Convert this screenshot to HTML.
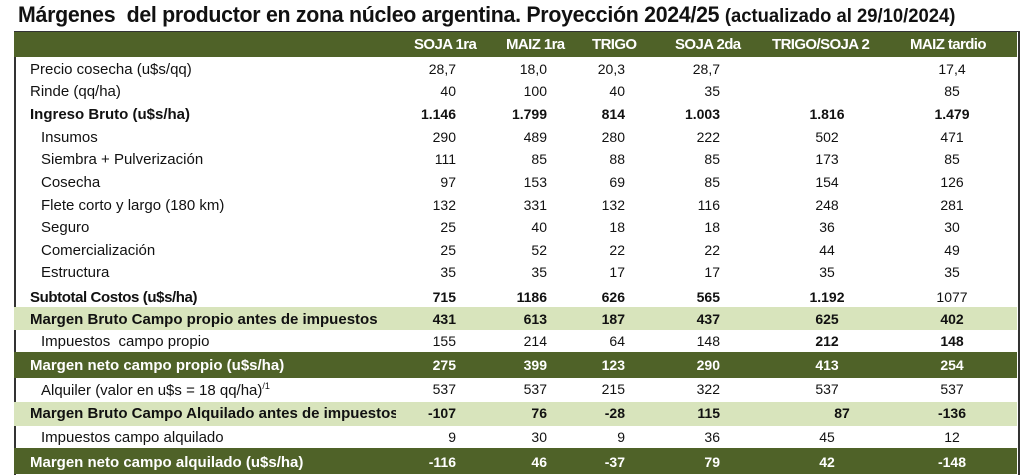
<!DOCTYPE html>
<html><head><meta charset="utf-8"><style>
body{margin:0;width:1024px;height:474px;background:#fff;overflow:hidden;position:relative;font-family:"Liberation Sans",sans-serif;color:#111}
.t{position:absolute;white-space:nowrap}
.bg{position:absolute;left:14px;width:1003px}
.r{position:absolute;left:0;width:1024px;font-size:14px}
.r span{position:absolute;white-space:nowrap;line-height:1}
.r span.l,.r span.s{font-size:15px;top:0}
.b span{font-weight:bold}
.w span{color:#fff;font-weight:bold}
.l{left:30px}.s{left:41px}
.c1{right:568px}.c2{right:477px}.c3{right:399px}.c4{right:304px}
.c5{left:777px;width:100px;text-align:center}.c6{left:902px;width:100px;text-align:center}
.h span{color:#fff;font-weight:bold;font-size:15px;letter-spacing:-0.6px}
</style></head><body>
<div class="t" style="left:18px;top:2px;font-size:22px;font-weight:bold;transform:scaleX(0.97);transform-origin:left top;letter-spacing:-0.3px">Márgenes&nbsp; del productor en zona núcleo argentina. Proyección 2024/25 <span style="font-size:19px;letter-spacing:0">(actualizado al 29/10/2024)</span></div>
<div style="position:absolute;left:14px;top:31px;width:1002px;height:443px;border-left:2px solid #333;border-right:2px solid #333;border-top:1px solid #333"></div>
<div class="bg" style="top:32px;height:25px;background:#4f6228"></div>
<div class="bg" style="top:307px;height:23px;background:#d8e4bc"></div>
<div class="bg" style="top:352px;height:26px;background:#4f6228"></div>
<div class="bg" style="top:402px;height:24px;background:#d8e4bc"></div>
<div class="bg" style="top:448px;height:26px;background:#4f6228"></div>

<div class="r h" style="top:37px"><span style="left:414px">SOJA 1ra</span><span style="left:506px">MAIZ 1ra</span><span style="left:592px">TRIGO</span><span style="left:675px">SOJA 2da</span><span style="left:772px">TRIGO/SOJA 2</span><span style="left:910px">MAIZ tardio</span></div>

<div class="r" style="top:62px"><span class="l">Precio cosecha (u$s/qq)</span><span class="c1">28,7</span><span class="c2">18,0</span><span class="c3">20,3</span><span class="c4">28,7</span><span class="c6">17,4</span></div>
<div class="r" style="top:84px"><span class="l">Rinde (qq/ha)</span><span class="c1">40</span><span class="c2">100</span><span class="c3">40</span><span class="c4">35</span><span class="c6">85</span></div>
<div class="r b" style="top:107px"><span class="l">Ingreso Bruto (u$s/ha)</span><span class="c1">1.146</span><span class="c2">1.799</span><span class="c3">814</span><span class="c4">1.003</span><span class="c5">1.816</span><span class="c6">1.479</span></div>
<div class="r" style="top:130px"><span class="s">Insumos</span><span class="c1">290</span><span class="c2">489</span><span class="c3">280</span><span class="c4">222</span><span class="c5">502</span><span class="c6">471</span></div>
<div class="r" style="top:152px"><span class="s">Siembra + Pulverización</span><span class="c1">111</span><span class="c2">85</span><span class="c3">88</span><span class="c4">85</span><span class="c5">173</span><span class="c6">85</span></div>
<div class="r" style="top:175px"><span class="s">Cosecha</span><span class="c1">97</span><span class="c2">153</span><span class="c3">69</span><span class="c4">85</span><span class="c5">154</span><span class="c6">126</span></div>
<div class="r" style="top:198px"><span class="s">Flete corto y largo (180 km)</span><span class="c1">132</span><span class="c2">331</span><span class="c3">132</span><span class="c4">116</span><span class="c5">248</span><span class="c6">281</span></div>
<div class="r" style="top:220px"><span class="s">Seguro</span><span class="c1">25</span><span class="c2">40</span><span class="c3">18</span><span class="c4">18</span><span class="c5">36</span><span class="c6">30</span></div>
<div class="r" style="top:243px"><span class="s">Comercialización</span><span class="c1">25</span><span class="c2">52</span><span class="c3">22</span><span class="c4">22</span><span class="c5">44</span><span class="c6">49</span></div>
<div class="r" style="top:265px"><span class="s">Estructura</span><span class="c1">35</span><span class="c2">35</span><span class="c3">17</span><span class="c4">17</span><span class="c5">35</span><span class="c6">35</span></div>
<div class="r b" style="top:290px"><span class="l" style="letter-spacing:-0.4px">Subtotal Costos (u$s/ha)</span><span class="c1">715</span><span class="c2">1186</span><span class="c3">626</span><span class="c4">565</span><span class="c5">1.192</span><span class="c6" style="font-weight:normal">1077</span></div>
<div class="r b" style="top:312px"><span class="l">Margen Bruto Campo propio antes de impuestos</span><span class="c1">431</span><span class="c2">613</span><span class="c3">187</span><span class="c4">437</span><span class="c5">625</span><span class="c6">402</span></div>
<div class="r" style="top:334px"><span class="s">Impuestos&nbsp; campo propio</span><span class="c1">155</span><span class="c2">214</span><span class="c3">64</span><span class="c4">148</span><span class="c5" style="font-weight:bold">212</span><span class="c6" style="font-weight:bold">148</span></div>
<div class="r w" style="top:358px"><span class="l">Margen neto campo propio (u$s/ha)</span><span class="c1">275</span><span class="c2">399</span><span class="c3">123</span><span class="c4">290</span><span class="c5">413</span><span class="c6">254</span></div>
<div class="r" style="top:382px"><span class="s">Alquiler (valor en u$s = 18 qq/ha)<sup style="font-size:9px">/1</sup></span><span class="c1">537</span><span class="c2">537</span><span class="c3">215</span><span class="c4">322</span><span class="c5">537</span><span class="c6">537</span></div>
<div class="r b" style="top:406px"><span class="l" style="width:366px;overflow:hidden">Margen Bruto Campo Alquilado antes de impuestos</span><span class="c1">-107</span><span class="c2">76</span><span class="c3">-28</span><span class="c4">115</span><span class="c5" style="left:792px">87</span><span class="c6">-136</span></div>
<div class="r" style="top:430px"><span class="s">Impuestos campo alquilado</span><span class="c1">9</span><span class="c2">30</span><span class="c3">9</span><span class="c4">36</span><span class="c5">45</span><span class="c6">12</span></div>
<div class="r w" style="top:455px"><span class="l">Margen neto campo alquilado (u$s/ha)</span><span class="c1">-116</span><span class="c2">46</span><span class="c3">-37</span><span class="c4">79</span><span class="c5">42</span><span class="c6">-148</span></div>
</body></html>
